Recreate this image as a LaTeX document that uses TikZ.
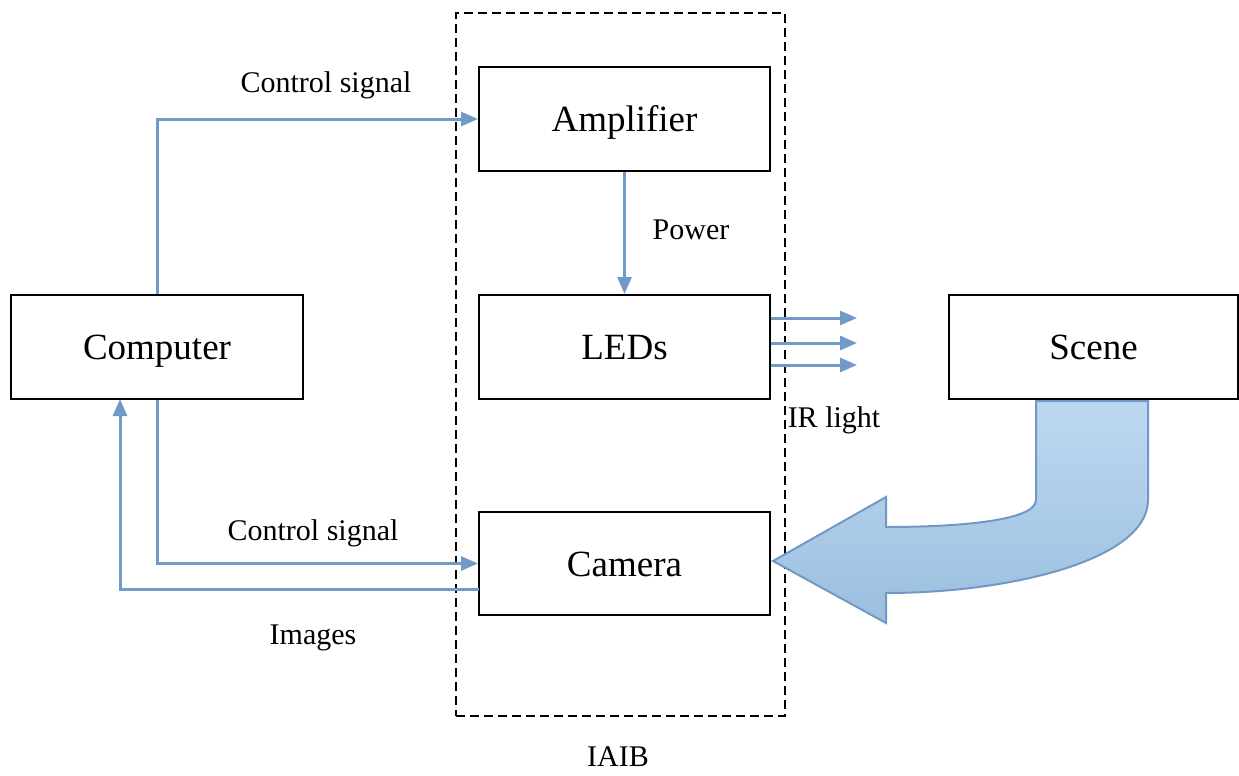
\documentclass[tikz,border=0pt]{standalone}
\usepackage{fontspec}
\setmainfont{Liberation Serif}
\usetikzlibrary{arrows.meta}
\definecolor{sig}{RGB}{112,155,200}
\definecolor{bigedge}{RGB}{114,153,196}
\definecolor{bigtop}{RGB}{190,216,240}
\definecolor{bigbot}{RGB}{155,191,224}
\tikzset{
  blockbox/.style={draw=black, line width=1pt, minimum width=145.5pt, minimum height=52pt, inner sep=0pt, text height=12.8pt, text depth=0pt, font=\fontsize{18.5}{22}\selectfont},
  lbl/.style={inner sep=0pt, text height=9.5pt, text depth=0pt, font=\fontsize{15}{18}\selectfont},
  sigline/.style={draw=sig, line width=1.5pt, -{Triangle[length=8.5pt,width=7pt]}},
  dashbox/.style={draw=black, line width=1.25pt, dash pattern=on 4.5pt off 2.5pt, minimum width=164.5pt, minimum height=351.5pt, inner sep=0pt},
}
\begin{document}
\begin{tikzpicture}[x=0.5pt,y=-0.5pt]
\useasboundingbox (0,0) rectangle (1239,776);
\node[dashbox] (iaib) at (620.5,364.5) {};
\node[lbl] (iaiblbl) at (618,757) {IAIB};
\node[blockbox] (amp) at (624.5,119) {Amplifier};
\node[blockbox] (leds) at (624.5,347) {LEDs};
\node[blockbox, minimum height=51.5pt] (cam) at (624.5,563.5) {Camera};
\node[blockbox, minimum width=146pt] (comp) at (157,347) {Computer};
\node[blockbox, minimum width=144.5pt] (scene) at (1093.5,347) {Scene};
% signals
\draw[sigline] (comp.north) |- (amp.west);
\node[lbl] (cs1) at (326,83) {Control signal};
\draw[sigline] (amp.south) -- (leds.north);
\node[lbl] (pw) at (691,230) {Power};
\coordinate (ir1) at (857,318);
\coordinate (ir2) at (857,343);
\coordinate (ir3) at (857,365);
\draw[sigline] (leds.east |- ir1) -- (ir1);
\draw[sigline] (leds.east |- ir2) -- (ir2);
\draw[sigline] (leds.east |- ir3) -- (ir3);
\node[lbl] (irl) at (834,418) {IR light};
\draw[sigline] (comp.south) |- (cam.west);
\node[lbl] (cs2) at (313,531) {Control signal};
\coordinate (imgstart) at (479,589);
\coordinate (imgend) at (120,399);
\draw[sigline] (imgstart) -| (imgend);
\node[lbl] (img) at (313,635) {Images};
% big curved arrow
\path[draw=bigedge, line width=1pt, line join=miter, top color=bigtop, bottom color=bigbot]
  (1036,401) -- (1036,500) .. controls (1036,522) and (950,527) .. (886,527)
  -- (886,497) -- (773,561) -- (886,623) -- (886,593)
  .. controls (1010,593) and (1148,560) .. (1148,500) -- (1148,401) -- cycle;
\end{tikzpicture}
\end{document}
